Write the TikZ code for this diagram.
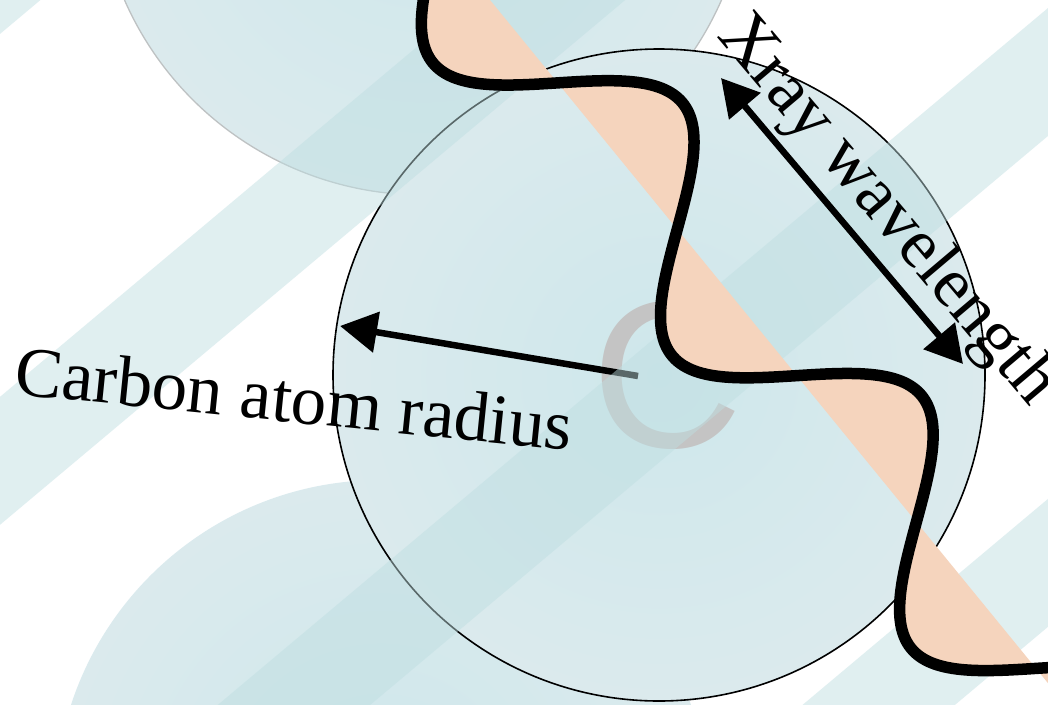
\documentclass[tikz,border=0pt]{standalone}
\usepackage{fontspec}
\setmainfont{Liberation Serif}
\newfontfamily\symbolfont{Liberation Sans}
\usetikzlibrary{arrows.meta}

% palette
\definecolor{planecol}{RGB}{190,222,225}
\definecolor{atomin}{RGB}{206,231,235}
\definecolor{atomout}{RGB}{232,238,240}
\definecolor{lobe}{RGB}{245,212,189}
\definecolor{ghostrim}{RGB}{190,194,195}
\definecolor{symbolgray}{RGB}{196,196,196}

% soft radial fill of an atom
\pgfdeclareradialshading{atomshade}{\pgfpoint{0bp}{0bp}}{color(0bp)=(atomin); color(50bp)=(atomout)}

\tikzset{
  atomfill/.style={shading=atomshade},
  plane/.style={fill=planecol, fill opacity=0.47},
  wavepen/.style={line width=11.5pt, line join=round},
  dimarrow/.style={line width=6.5pt},
  bigtip/.tip={Triangle[length=37pt, width=40pt]},
  label/.style={font=\fontsize{71}{85}\selectfont, inner sep=0pt},
}

\begin{document}
\begin{tikzpicture}[x=1pt, y=-1pt]
  \useasboundingbox (0,0) rectangle (1048,704);
  \clip (0,0) rectangle (1048,704);
  \fill[white] (0,0) rectangle (1048,704);

  % atom centres
  \coordinate (ghostA) at (423,-131);
  \coordinate (ghostB) at (381,806);
  \coordinate (atom)   at (659,375);

  % neighbouring atoms
  \shade[atomfill] (ghostA) circle[radius=326];
  \draw[ghostrim, line width=1.3pt] (ghostA) ++(96.1:326) arc[start angle=96.1, end angle=200, radius=326];
  \draw[ghostrim, line width=1.3pt] (ghostA) ++(-10:326) arc[start angle=-10, end angle=33.9, radius=326];
  \shade[atomfill] (ghostB) circle[radius=326];

  % central carbon atom
  \shade[atomfill] (atom) circle[radius=326];
  \draw[black, line width=1.6pt] (atom) circle[radius=326];
  \node[font=\symbolfont\fontsize{210}{210}\selectfont, text=symbolgray, inner sep=0pt] (csym) at (667,375) {C};

  % radius marker
  \coordinate (rtail) at (638,376);
  \coordinate (rtip)  at (340,326);
  \draw[dimarrow, -{bigtip}] (rtail) -- (rtip);

  % lattice planes
  \foreach \d in {-72,304,680,1056} {
    \fill[plane] ({-100},{(\d+64.3)/0.766}) -- ({1200},{(\d-771.6)/0.766})
      -- ({1200},{(\d+98-771.6)/0.766}) -- ({-100},{(\d+98+64.3)/0.766}) -- cycle;
  }

  % x-ray wave and the area between it and its axis
  \coordinate (axisA) at ({490+0.6326*(-60)},{0.7745*(-60)});
  \coordinate (axisB) at ({490+0.6326*900},{0.7745*900});
  \fill[lobe] plot[domain=-60:900, samples=321, variable=\s]
      ({490+0.6326*\s+65.06*sin(0.952381*(\s-107))}, {0.7745*\s-53.14*sin(0.952381*(\s-107))})
      -- (axisB) -- (axisA) -- cycle;
  \draw[wavepen] plot[domain=-60:900, samples=321, variable=\s, smooth]
      ({490+0.6326*\s+65.06*sin(0.952381*(\s-107))}, {0.7745*\s-53.14*sin(0.952381*(\s-107))});

  % wavelength marker
  \coordinate (xa) at (721,78);
  \coordinate (xb) at (963,364);
  \draw[dimarrow, {bigtip}-{bigtip}] (xa) -- (xb);

  % labels
  \node[label, anchor=base west, rotate=-49.8] (xlabel) at (716,36) {Xray wavelength};
  \node[label, anchor=base west, rotate=-5.8] (rlabel) at (13,394) {Carbon atom radius};
\end{tikzpicture}
\end{document}
